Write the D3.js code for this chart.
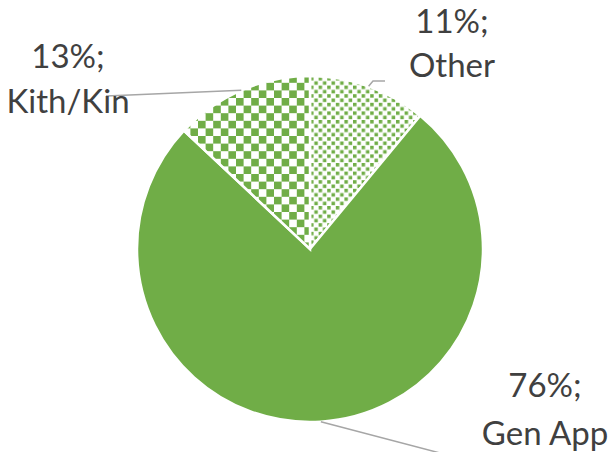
<!DOCTYPE html>
<html>
<head>
<meta charset="utf-8">
<script src="https://cdn.jsdelivr.net/npm/d3@7"></script>
<style>
  html, body { margin: 0; padding: 0; background: #fff; }
  svg { display: block; }
</style>
</head>
<body>
<svg id="chart" width="613" height="452"></svg>
<script>
// Share of applications by type, clockwise from 12 o'clock
const categories = ["Other", "Gen App", "Kith/Kin"];
const values = [11, 76, 13];
const fills = ["smallChecker", "solid", "largeChecker"];

const W = 613, H = 452;
const cx = 310, cy = 249, radius = 173;
const green = "#70AD47";
const textColor = "#404040";
const leaderColor = "#A6A6A6";

const svg = d3.select("#chart");
const defs = svg.append("defs");

// Large checkerboard for Kith/Kin
const cell = 7.6;
const big = defs.append("pattern")
  .attr("id", "largeChecker")
  .attr("patternUnits", "userSpaceOnUse")
  .attr("width", cell * 2).attr("height", cell * 2)
  .attr("x", 2).attr("y", 1);
big.append("rect").attr("width", cell * 2).attr("height", cell * 2).attr("fill", "#fff");
big.append("rect").attr("width", cell).attr("height", cell).attr("fill", green);
big.append("rect").attr("x", cell).attr("y", cell).attr("width", cell).attr("height", cell).attr("fill", green);

// Small staggered dots for Other
const p = 8.6, dot = 3.5;
const small = defs.append("pattern")
  .attr("id", "smallChecker")
  .attr("patternUnits", "userSpaceOnUse")
  .attr("width", p).attr("height", p);
small.append("rect").attr("width", p).attr("height", p).attr("fill", "#fff");
small.append("rect").attr("width", dot).attr("height", dot).attr("fill", green);
small.append("rect").attr("x", p / 2).attr("y", p / 2).attr("width", dot).attr("height", dot).attr("fill", green);

const pie = d3.pie().sort(null).value(d => d.value);
const arc = d3.arc().innerRadius(0).outerRadius(radius);

const data = categories.map((c, i) => ({ name: c, value: values[i], fill: fills[i] }));
const arcs = pie(data);

const g = svg.append("g").attr("transform", `translate(${cx},${cy})`);

g.selectAll("path.slice")
  .data(arcs)
  .join("path")
  .attr("class", "slice")
  .attr("d", arc)
  .attr("fill", d => d.data.fill === "solid" ? green : `url(#${d.data.fill})`)
  .attr("stroke", "#fff")
  .attr("stroke-width", 2.5)
  .attr("stroke-linejoin", "miter");

// Label placement (label centre, line baselines) and leader elbows per slice
const labelSpec = {
  "Other":    { x: 452, y1: 33,  y2: 77,  elbow: [[373, 81], [385, 81]] },
  "Gen App":  { x: 545, y1: 397, y2: 445, elbow: [[440, 453]] },
  "Kith/Kin": { x: 68,  y1: 68,  y2: 113, elbow: [[106, 96]] }
};

const total = d3.sum(values);

arcs.forEach(a => {
  const spec = labelSpec[a.data.name];
  const mid = (a.startAngle + a.endAngle) / 2;
  const sx = cx + radius * Math.sin(mid);
  const sy = cy - radius * Math.cos(mid);
  const pts = [[sx, sy]].concat(spec.elbow);
  svg.append("path")
    .attr("d", d3.line()(pts))
    .attr("fill", "none")
    .attr("stroke", leaderColor)
    .attr("stroke-width", 1.5);

  const pct = Math.round(a.data.value / total * 100);
  const t = svg.append("text")
    .attr("text-anchor", "middle")
    .attr("fill", textColor)
    .attr("font-family", "Lato, 'Open Sans', sans-serif")
    .attr("font-size", 33);
  t.append("tspan").attr("x", spec.x).attr("y", spec.y1).text(`${pct}%;`);
  t.append("tspan").attr("x", spec.x).attr("y", spec.y2).text(a.data.name);
});
</script>
</body>
</html>
